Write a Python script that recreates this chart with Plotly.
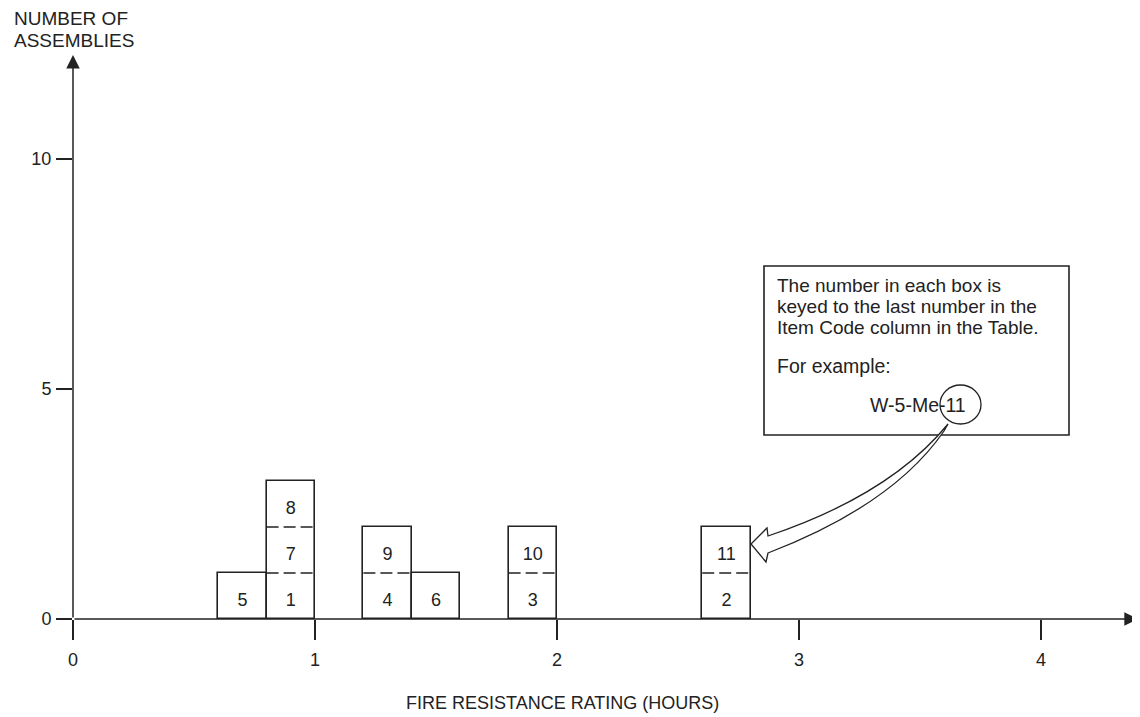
import plotly.graph_objects as go

# ---------------- data ----------------
ratings = [0.7, 0.9, 0.9, 0.9, 1.3, 1.3, 1.5, 1.9, 1.9, 2.7, 2.7]   # bin centre, hours
item_numbers = [5, 1, 7, 8, 4, 9, 6, 3, 10, 2, 11]
bin_width = 0.2
x_ticks = [0, 1, 2, 3, 4]
y_ticks = [0, 5, 10]
x_title = "FIRE RESISTANCE RATING (HOURS)"
y_title_lines = ["NUMBER OF", "ASSEMBLIES"]
note_lines = ["The number in each box is",
              "keyed to the last number in the",
              "Item Code column in the Table."]
example_intro = "For example:"
example_code = "W-5-Me-11"

# ---------------- layout geometry ----------------
OFF = 8                      # default body margin of the page
W, H = 1140 - OFF, 717 - OFF  # figure size
X0_PAGE, Y0_PAGE = 73, 619    # page pixel of the origin
ML = X0_PAGE - OFF
MB = H - (Y0_PAGE - OFF)
X_MAX = 4.409
Y_MAX = (Y0_PAGE - OFF) / 46.0
INK = "#222222"
FONT = "Liberation Sans, Arial, sans-serif"


def px(xp):
    """page pixel x -> paper"""
    return (xp - X0_PAGE) / (W - ML)


def py(yp):
    """page pixel y -> paper"""
    return (Y0_PAGE - yp) / (H - MB)


# stacking level of every assembly
levels, count = [], {}
for r in ratings:
    count[r] = count.get(r, 0) + 1
    levels.append(count[r])
columns = sorted(count)
totals = [count[c] for c in columns]

fig = go.Figure()

fig.add_trace(go.Bar(
    x=columns, y=totals, width=bin_width,
    marker=dict(color="white", line=dict(color=INK, width=1.6)),
    hoverinfo="skip", showlegend=False))

dx, dy = [], []
for c, n in zip(columns, totals):
    for k in range(1, n):
        dx += [c - bin_width / 2, c + bin_width / 2, None]
        dy += [k, k, None]
fig.add_trace(go.Scatter(
    x=dx, y=dy, mode="lines",
    line=dict(color=INK, width=1.5, dash="12px,5px"),
    hoverinfo="skip", showlegend=False))

fig.add_trace(go.Scatter(
    x=ratings, y=[lv - 0.63 for lv in levels], mode="text",
    text=[str(n) for n in item_numbers], textposition="middle center",
    textfont=dict(family=FONT, size=18, color=INK),
    hoverinfo="skip", showlegend=False))

annotations = []
# axis arrows
annotations.append(dict(x=4.40, y=0, ax=0, ay=0, xref="x", yref="y",
                        axref="x", ayref="y", text="", showarrow=True,
                        arrowhead=2, arrowsize=1.8, arrowwidth=1.5,
                        arrowcolor=INK, standoff=0, startstandoff=0))
annotations.append(dict(x=0, y=12.26, ax=0, ay=0, xref="x", yref="y",
                        axref="x", ayref="y", text="", showarrow=True,
                        arrowhead=2, arrowsize=1.8, arrowwidth=1.5,
                        arrowcolor=INK, standoff=0, startstandoff=0))
# y title
for i, t in enumerate(y_title_lines):
    annotations.append(dict(x=px(12), y=py(18.8 + 21.4 * i), xref="paper", yref="paper",
                            xanchor="left", yanchor="middle", text=t, showarrow=False,
                            font=dict(family=FONT, size=19, color=INK)))
# x title
annotations.append(dict(x=px(562), y=py(703), xref="paper", yref="paper",
                        xanchor="center", yanchor="middle", text=x_title, showarrow=False,
                        font=dict(family=FONT, size=18, color=INK)))
# note text
for i, t in enumerate(note_lines):
    annotations.append(dict(x=px(775), y=py(285 + 21.4 * i), xref="paper", yref="paper",
                            xanchor="left", yanchor="middle", text=t, showarrow=False,
                            font=dict(family=FONT, size=19, color=INK)))
annotations.append(dict(x=px(775), y=py(366), xref="paper", yref="paper",
                        xanchor="left", yanchor="middle", text=example_intro, showarrow=False,
                        font=dict(family=FONT, size=19.5, color=INK)))
annotations.append(dict(x=px(918), y=py(405), xref="paper", yref="paper",
                        xanchor="center", yanchor="middle", text=example_code, showarrow=False,
                        font=dict(family=FONT, size=19.5, color=INK)))

shapes = []
shapes.append(dict(type="rect", xref="paper", yref="paper",
                   x0=px(764), x1=px(1069), y0=py(266), y1=py(435),
                   line=dict(color=INK, width=1.6), fillcolor="rgba(0,0,0,0)"))
shapes.append(dict(type="circle", xref="paper", yref="paper",
                   x0=px(940), x1=px(981), y0=py(385), y1=py(424),
                   line=dict(color=INK, width=1.3)))

arrow_pts = [("M", 948, 424), ("Q", 890, 495), ("", 768, 536), ("L", 767, 528),
             ("L", 751, 544), ("L", 766, 562), ("L", 768, 553), ("Q", 893, 505),
             ("", 944, 431)]
path = " ".join(f"{cmd}{px(a):.5f},{py(b):.5f}" for cmd, a, b in arrow_pts) + " Z"
shapes.append(dict(type="path", xref="paper", yref="paper", path=path,
                   line=dict(color=INK, width=1.3), fillcolor="white"))

fig.update_layout(
    width=W, height=H,
    margin=dict(l=ML, r=0, t=0, b=MB, pad=0),
    paper_bgcolor="white", plot_bgcolor="white",
    font=dict(family=FONT, size=18, color=INK),
    xaxis=dict(range=[0, X_MAX], tickvals=x_ticks, ticks="outside", ticklen=20,
               tickwidth=1.5, tickcolor=INK, showgrid=False, zeroline=False,
               showline=False, ticklabelstandoff=4,
               tickfont=dict(family=FONT, size=18, color=INK)),
    yaxis=dict(range=[0, Y_MAX], tickvals=y_ticks, ticks="outside", ticklen=16,
               tickwidth=1.5, tickcolor=INK, showgrid=False, zeroline=False,
               showline=False, ticklabelstandoff=1,
               tickfont=dict(family=FONT, size=18, color=INK)),
    annotations=annotations, shapes=shapes, bargap=0,
)

fig.write_html("out.html")
